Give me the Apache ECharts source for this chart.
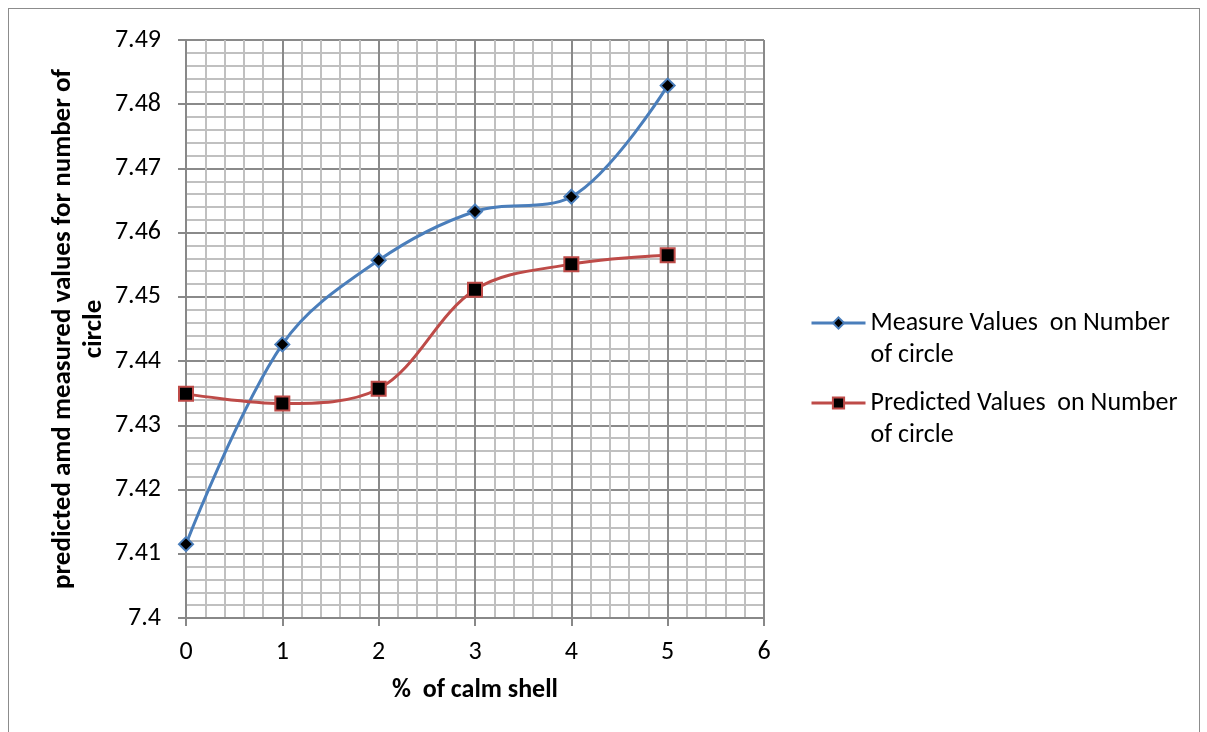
<!DOCTYPE html>
<html>
<head>
<meta charset="utf-8">
<script src="https://cdn.jsdelivr.net/npm/echarts@6/dist/echarts.min.js"></script>
<style>
  html, body { margin: 0; padding: 0; background: #fff; }
  #frame { position: absolute; left: 8px; top: 8px; width: 1192px; height: 740px; border: 1px solid #8c8c8c; box-sizing: border-box; }
  #main { position: absolute; left: 0; top: 0; width: 1207px; height: 732px; }
</style>
</head>
<body>
<div id="frame"></div>
<div id="main"></div>
<script>
// x = % of calm shell
var xValues = [0, 1, 2, 3, 4, 5];
var measured = [7.4115, 7.4426, 7.4557, 7.4633, 7.4656, 7.4829];
var predicted = [7.4349, 7.4334, 7.4357, 7.4511, 7.4551, 7.4565];
// empty first line so the legend icon sits on the first text line
var seriesNames = ['\nMeasure Values  on Number\nof circle', '\nPredicted Values  on Number\nof circle'];

function pairs(ys) {
    return xValues.map(function (x, i) { return [x, ys[i]]; });
}

var font = 'Carlito, "Liberation Sans", Arial, sans-serif';
var chart = echarts.init(document.getElementById('main'));
chart.setOption({
    animation: false,
    textStyle: { fontFamily: font },
    grid: { left: 186, top: 40, width: 578, height: 578 },
    legend: {
        orient: 'vertical',
        left: 805,
        top: 270,
        itemWidth: 54,
        itemHeight: 14,
        itemGap: -16,
        itemStyle: { borderWidth: 2 },
        lineStyle: { width: 3 },
        textStyle: { fontSize: 26, color: '#000', lineHeight: 32, fontFamily: font },
        data: seriesNames
    },
    xAxis: {
        type: 'value',
        min: 0, max: 6, interval: 1,
        name: '%  of calm shell',
        nameLocation: 'middle',
        nameGap: 59,
        nameTextStyle: { fontSize: 26, fontWeight: 'bold', color: '#000' },
        axisLine: { show: true, lineStyle: { color: '#888', width: 2 } },
        axisTick: { show: true, length: 8, lineStyle: { color: '#888', width: 2 } },
        axisLabel: { fontSize: 26, color: '#000', margin: 21 },
        splitLine: { show: true, lineStyle: { color: '#8a8a8a', width: 2 } },
        minorTick: { show: true, splitNumber: 5, length: 0 },
        minorSplitLine: { show: true, lineStyle: { color: '#c0c0c0', width: 2 } }
    },
    yAxis: {
        type: 'value',
        min: 7.4, max: 7.49, interval: 0.01,
        name: 'predicted amd measured values for number of\ncircle',
        nameLocation: 'middle',
        nameGap: 76,
        nameTextStyle: { fontSize: 27, fontWeight: 'bold', color: '#000', lineHeight: 31, align: 'center' },
        axisLine: { show: true, lineStyle: { color: '#888', width: 2 } },
        axisTick: { show: true, length: 8, lineStyle: { color: '#888', width: 2 } },
        axisLabel: {
            fontSize: 26, color: '#000', margin: 25,
            formatter: function (v) { return String(parseFloat(v.toFixed(2))); }
        },
        splitLine: { show: true, lineStyle: { color: '#8a8a8a', width: 2 } },
        minorTick: { show: true, splitNumber: 5, length: 0 },
        minorSplitLine: { show: true, lineStyle: { color: '#c0c0c0', width: 2 } }
    },
    series: [{
        name: seriesNames[0],
        type: 'line',
        smooth: 0.35,
        data: pairs(measured),
        symbol: 'diamond',
        symbolSize: 14,
        lineStyle: { color: '#4a7ebb', width: 3 },
        itemStyle: { color: '#000', borderColor: '#4a7ebb', borderWidth: 2 }
    }, {
        name: seriesNames[1],
        type: 'line',
        smooth: 0.35,
        data: pairs(predicted),
        symbol: 'rect',
        symbolSize: 14,
        lineStyle: { color: '#be4b48', width: 3 },
        itemStyle: { color: '#000', borderColor: '#be4b48', borderWidth: 2 }
    }]
});
</script>
</body>
</html>
